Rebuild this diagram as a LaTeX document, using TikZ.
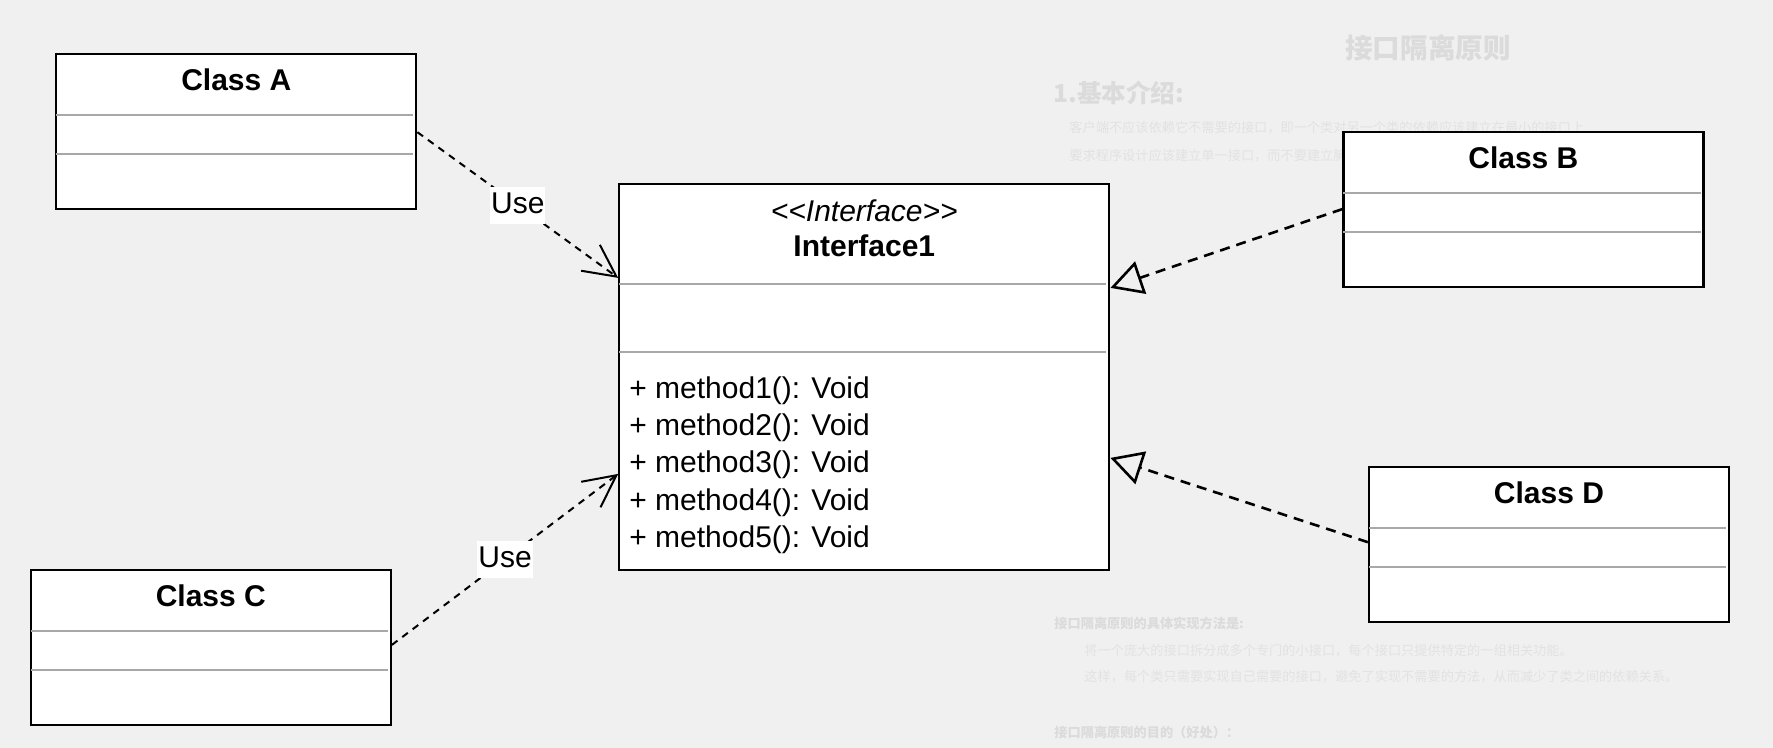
\documentclass[tikz,border=0pt]{standalone}
\usepackage{fontspec}
\setmainfont{Liberation Sans}
\newfontfamily\cjk{Noto Sans CJK SC}
\usetikzlibrary{positioning,calc,arrows.meta}

\definecolor{bgcol}{HTML}{F0F0F0}
\definecolor{sepcol}{HTML}{A8A8A8}
\definecolor{ghost}{HTML}{E2E2E2}
\definecolor{ghostdark}{HTML}{DBDBDB}

\tikzset{
  classbox/.style={draw=black,fill=white,line width=1.1pt,minimum width=180pt,minimum height=77.5pt,inner sep=0pt},
  ctitle/.style={font=\fontsize{15}{18}\selectfont\bfseries,inner sep=0pt},
  divider/.style={draw=sepcol,line width=1pt},
  meth/.style={font=\fontsize{15}{18}\selectfont,anchor=base west,inner sep=0pt},
  uses/.style={dash pattern=on 3.5pt off 3pt,line width=1pt,-{Straight Barb[length=16pt,width=16pt]}},
  realize/.style={dash pattern=on 5pt off 3.5pt,line width=1.3pt,-{Triangle[open,length=16pt,width=17pt]}},
  uselabel/.style={fill=white,font=\fontsize{15}{18}\selectfont,inner xsep=0.5pt,inner ysep=0pt,text height=13.5pt,text depth=5pt},
  ghosttext/.style={text=ghost,anchor=west,inner sep=0pt,font=\cjk\fontsize{6.6}{8}\selectfont},
  ghosthead/.style={text=ghostdark,anchor=west,inner sep=0pt,font=\cjk\bfseries\fontsize{6.6}{8}\selectfont},
}

\begin{document}
\begin{tikzpicture}[x=0.5pt,y=-0.5pt]
\fill[bgcol] (0,0) rectangle (1773,748);
\useasboundingbox (0,0) rectangle (1773,748);

% faint page text behind the diagram
\node[text=ghostdark,inner sep=0pt,font=\cjk\bfseries\fontsize{13.8}{16}\selectfont] (gTitle) at (1428,48) {接口隔离原则};
\node[text=ghostdark,anchor=west,inner sep=0pt,font=\cjk\bfseries\fontsize{12.3}{14}\selectfont] (gHead) at (1053,93) {1.基本介绍:};
\node[ghosttext] (g1) at (1069,128) {客户端不应该依赖它不需要的接口，即一个类对另一个类的依赖应该建立在最小的接口上};
\node[ghosttext] (g2) at (1069,156) {要求程序设计应该建立单一接口，而不要建立臃肿庞大的接口};
\node[ghosthead] (g3) at (1054,623) {接口隔离原则的具体实现方法是:};
\node[ghosttext] (g4) at (1084,651) {将一个庞大的接口拆分成多个专门的小接口，每个接口只提供特定的一组相关功能。};
\node[ghosttext] (g5) at (1084,677) {这样，每个类只需要实现自己需要的接口，避免了实现不需要的方法，从而减少了类之间的依赖关系。};
\node[ghosthead] (g6) at (1054,732) {接口隔离原则的目的（好处）：};

% classes
\node[classbox] (clsA) at (236.3,131.8) {};
\node[ctitle] (tA) at ($(clsA.north)+(0,27)$) {Class A};
\draw[divider] ($(clsA.north west)+(1,62)$) -- ($(clsA.north east)+(-4,62)$);
\draw[divider] ($(clsA.north west)+(1,101)$) -- ($(clsA.north east)+(-4,101)$);

\node[classbox] (clsB) at (1523.4,209.7) {};
\node[ctitle] (tB) at ($(clsB.north)+(0,27)$) {Class B};
\draw[divider] ($(clsB.north west)+(1,62)$) -- ($(clsB.north east)+(-4,62)$);
\draw[divider] ($(clsB.north west)+(1,101)$) -- ($(clsB.north east)+(-4,101)$);

\node[classbox] (clsC) at (210.8,647.5) {};
\node[ctitle] (tC) at ($(clsC.north)+(0,27)$) {Class C};
\draw[divider] ($(clsC.north west)+(1,62)$) -- ($(clsC.north east)+(-4,62)$);
\draw[divider] ($(clsC.north west)+(1,101)$) -- ($(clsC.north east)+(-4,101)$);

\node[classbox] (clsD) at (1549,544.2) {};
\node[ctitle] (tD) at ($(clsD.north)+(0,27)$) {Class D};
\draw[divider] ($(clsD.north west)+(1,62)$) -- ($(clsD.north east)+(-4,62)$);
\draw[divider] ($(clsD.north west)+(1,101)$) -- ($(clsD.north east)+(-4,101)$);

% the interface
\node[classbox,minimum width=245pt,minimum height=193pt] (intf) at (864.3,377) {};
\node[ctitle,font=\fontsize{15}{18}\selectfont\itshape] (stereo) at ($(intf.north)+(0,27.7)$) {<{}<Interface>{}>};
\node[ctitle] (iname) at ($(intf.north)+(0,63.3)$) {Interface1};
\draw[divider] ($(intf.north west)+(1,101)$) -- ($(intf.north east)+(-4,101)$);
\draw[divider] ($(intf.north west)+(1,169.5)$) -- ($(intf.north east)+(-4,169.5)$);
\node[meth] (m1) at (629,399) {+ method1(): Void};
\node[meth] (m2) at (629,436) {+ method2(): Void};
\node[meth] (m3) at (629,473) {+ method3(): Void};
\node[meth] (m4) at (629,510) {+ method4(): Void};
\node[meth] (m5) at (629,547) {+ method5(): Void};

% dependencies
\draw[uses] ($(clsA.north east)+(0,79)$) -- node[uselabel] {Use} ($(intf.north west)+(0,95)$);
\draw[uses] ($(clsC.north east)+(0,76)$) -- node[uselabel] {Use} ($(intf.north west)+(0,291)$);

% realizations
\draw[realize] ($(clsB.north west)+(0,78)$) -- ($(intf.north east)+(0,105)$);
\draw[realize] ($(clsD.north west)+(0,76.6)$) -- ($(intf.north east)+(0,275)$);
\end{tikzpicture}
\end{document}
